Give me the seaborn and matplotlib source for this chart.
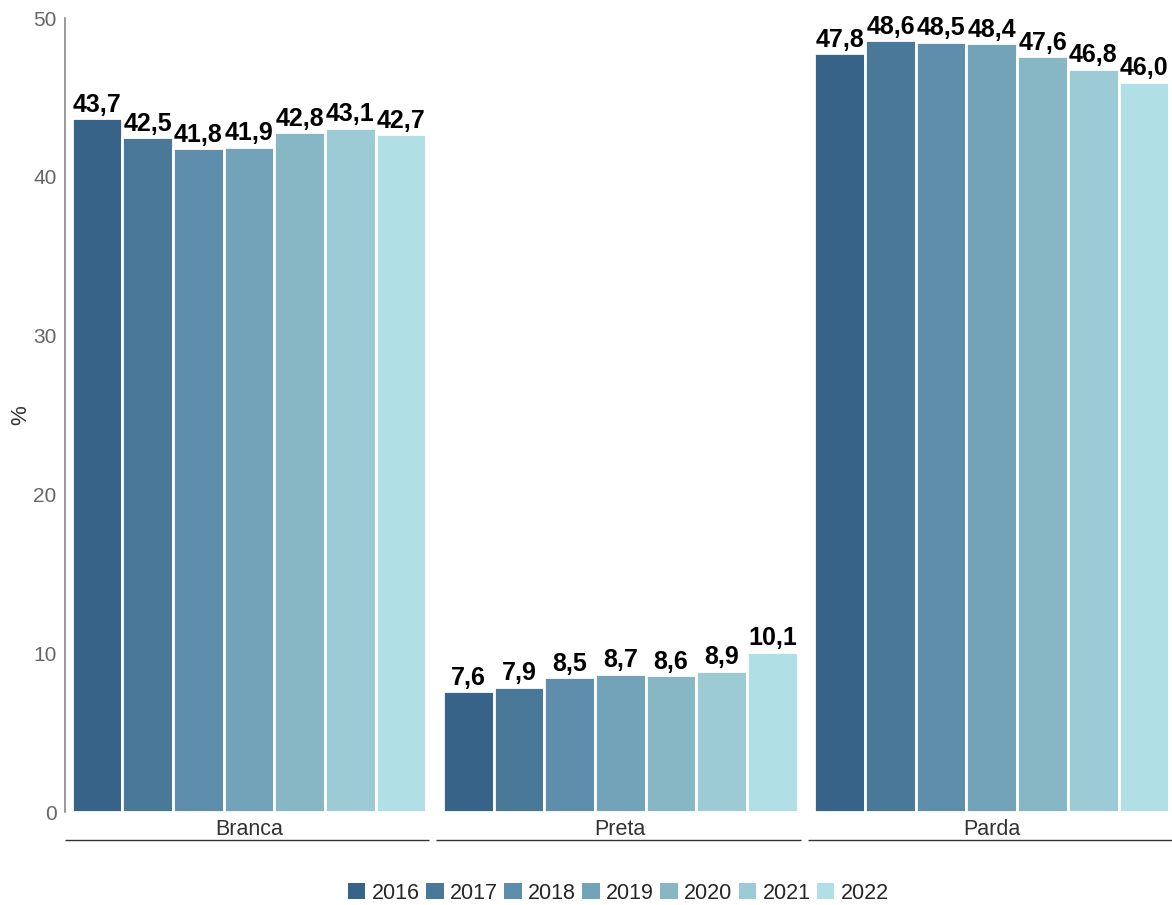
import matplotlib
matplotlib.use("Agg")
import matplotlib.pyplot as plt
import seaborn as sns
import pandas as pd
import matplotlib.patches as mpatches

categories = ["Branca", "Preta", "Parda"]
years = ["2016", "2017", "2018", "2019", "2020", "2021", "2022"]
branca = [43.7, 42.5, 41.8, 41.9, 42.8, 43.1, 42.7]
preta = [7.6, 7.9, 8.5, 8.7, 8.6, 8.9, 10.1]
parda = [47.8, 48.6, 48.5, 48.4, 47.6, 46.8, 46.0]
colors = ["#376389", "#4a7899", "#5e8eab", "#72a3b8", "#87b7c5", "#9ccbd6", "#b0e0e6"]

rows = []
for cat, vals in zip(categories, [branca, preta, parda]):
    for y, v in zip(years, vals):
        rows.append({"cat": cat, "year": y, "val": v})
df = pd.DataFrame(rows)

sns.set_theme(style="white")
plt.rcParams["font.family"] = ["Liberation Sans", "DejaVu Sans"]

fig = plt.figure(figsize=(11.72, 9.05), dpi=100)
ax = fig.add_axes([65 / 1172, 1 - 812 / 905, 1 - 65 / 1172, (812 - 18) / 905])

sns.barplot(data=df, x="cat", y="val", hue="year", order=categories, hue_order=years,
            palette=colors, width=0.955, edgecolor="white", linewidth=2,
            saturation=1, ax=ax, legend=False)

for cont in ax.containers:
    labels = [f"{b.get_height():.1f}".replace(".", ",") for b in cont]
    ax.bar_label(cont, labels=labels, padding=1, fontsize=18, fontweight="bold", color="black")

ax.set_ylim(0, 50)
ax.set_xlim(-0.495, 2.485)
ax.set_yticks([0, 10, 20, 30, 40, 50])
ax.tick_params(axis="y", labelsize=15, labelcolor="#666666", length=0, pad=6)
ax.tick_params(axis="x", labelsize=15.5, labelcolor="#333333", length=0, pad=5)
ax.set_xlabel("")
ax.set_ylabel("%", fontsize=16, color="#333333")
ax.yaxis.set_label_coords(-34 / 1107, 0.5)
for s in ["top", "right", "bottom"]:
    ax.spines[s].set_visible(False)
ax.spines["left"].set_color("#888888")
ax.spines["left"].set_linewidth(1.2)

# group separator lines under the category labels
trans = ax.get_xaxis_transform()
for i in range(len(categories)):
    ax.plot([i - 0.495, i + 0.485], [-0.035, -0.035], transform=trans,
            color="#333333", lw=1, clip_on=False, solid_capstyle="butt")

handles = [mpatches.Patch(facecolor=c, edgecolor="none", label=y) for c, y in zip(colors, years)]
fig.legend(handles=handles, loc="center", bbox_to_anchor=((65 + 1172) / 2 / 1172, 1 - 893 / 905),
           ncol=7, frameon=False, fontsize=15.5, handlelength=0.8, handleheight=0.8,
           handletextpad=0.3, columnspacing=0.3)

fig.savefig("out.png", dpi=100)
